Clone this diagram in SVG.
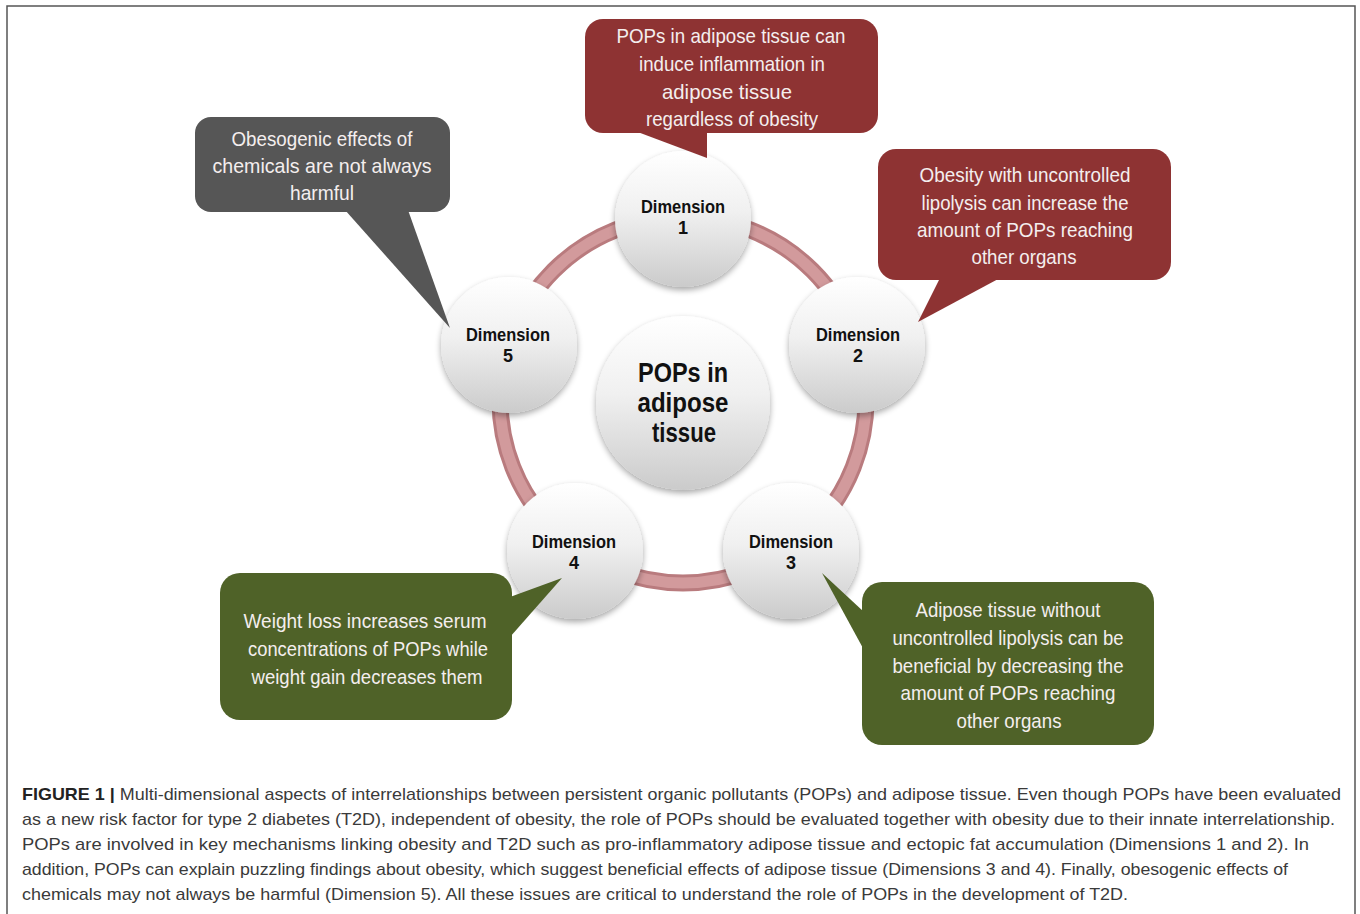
<svg xmlns="http://www.w3.org/2000/svg" width="1360" height="914" viewBox="0 0 1360 914">
<defs>
<style>
.co{font-family:"Liberation Sans",Arial,sans-serif;font-size:21px;fill:#f4eeee;text-anchor:middle;}
.dim{font-family:"Liberation Sans",Arial,sans-serif;font-size:18px;font-weight:bold;fill:#111;text-anchor:middle;}
.ctr{font-family:"Liberation Sans",Arial,sans-serif;font-size:28px;font-weight:bold;fill:#111;text-anchor:middle;}
.cap{font-family:"Liberation Sans",Arial,sans-serif;font-size:17px;fill:#3a3a3a;}
.red{fill:#8e3333;}
.gray{fill:#565656;}
.green{fill:#4f6228;}
</style>
<linearGradient id="ball" x1="0" y1="0" x2="0" y2="1">
<stop offset="0" stop-color="#ffffff"/>
<stop offset="0.45" stop-color="#f0f0f0"/>
<stop offset="1" stop-color="#cbcbcb"/>
</linearGradient>
<filter id="sh" x="-30%" y="-30%" width="160%" height="160%">
<feGaussianBlur in="SourceAlpha" stdDeviation="3"/>
<feOffset dx="0" dy="3" result="b"/>
<feComponentTransfer><feFuncA type="linear" slope="0.35"/></feComponentTransfer>
<feMerge><feMergeNode/><feMergeNode in="SourceGraphic"/></feMerge>
</filter>
</defs>
<rect x="0" y="0" width="1360" height="914" fill="#ffffff"/>
<rect x="7" y="6" width="1348" height="920" fill="none" stroke="#555" stroke-width="1.5"/>

<g id="connectors">
<circle cx="683" cy="400" r="183" fill="none" stroke="#b97b7e" stroke-width="17"/>
<circle cx="683" cy="400" r="183" fill="none" stroke="#d29a9c" stroke-width="11"/>
</g>

<g id="center">
<circle cx="683" cy="403" r="87" fill="url(#ball)" filter="url(#sh)"/>
<text class="ctr" x="683" y="382" textLength="90" lengthAdjust="spacingAndGlyphs">POPs in</text>
<text class="ctr" x="683" y="412" textLength="91" lengthAdjust="spacingAndGlyphs">adipose</text>
<text class="ctr" x="684" y="442" textLength="64" lengthAdjust="spacingAndGlyphs">tissue</text>
</g>

<g id="dim1">
<circle cx="683" cy="219" r="68" fill="url(#ball)" filter="url(#sh)"/>
<text class="dim" x="683" y="213" textLength="84" lengthAdjust="spacingAndGlyphs">Dimension</text>
<text class="dim" x="683" y="234">1</text>
</g>
<g id="dim2">
<circle cx="857" cy="345" r="68" fill="url(#ball)" filter="url(#sh)"/>
<text class="dim" x="858" y="341" textLength="84" lengthAdjust="spacingAndGlyphs">Dimension</text>
<text class="dim" x="858" y="362">2</text>
</g>
<g id="dim3">
<circle cx="791" cy="551" r="68" fill="url(#ball)" filter="url(#sh)"/>
<text class="dim" x="791" y="548" textLength="84" lengthAdjust="spacingAndGlyphs">Dimension</text>
<text class="dim" x="791" y="569">3</text>
</g>
<g id="dim4">
<circle cx="575" cy="551" r="68" fill="url(#ball)" filter="url(#sh)"/>
<text class="dim" x="574" y="548" textLength="84" lengthAdjust="spacingAndGlyphs">Dimension</text>
<text class="dim" x="574" y="569">4</text>
</g>
<g id="dim5">
<circle cx="509" cy="345" r="68" fill="url(#ball)" filter="url(#sh)"/>
<text class="dim" x="508" y="341" textLength="84" lengthAdjust="spacingAndGlyphs">Dimension</text>
<text class="dim" x="508" y="362">5</text>
</g>

<g id="callout1">
<rect class="red" x="585" y="19" width="293" height="114" rx="18"/>
<polygon class="red" points="635,131 707,131 707,158"/>
<text class="co" x="731" y="43" textLength="229" lengthAdjust="spacingAndGlyphs">POPs in adipose tissue can</text>
<text class="co" x="732" y="71" textLength="186" lengthAdjust="spacingAndGlyphs">induce inflammation in</text>
<text class="co" x="727" y="99" textLength="130" lengthAdjust="spacingAndGlyphs">adipose tissue</text>
<text class="co" x="732" y="126" textLength="172" lengthAdjust="spacingAndGlyphs">regardless of obesity</text>
</g>

<g id="callout2">
<rect class="red" x="878" y="149" width="293" height="131" rx="18"/>
<polygon class="red" points="940,278 1000,278 918,322"/>
<text class="co" x="1025" y="182" textLength="211" lengthAdjust="spacingAndGlyphs">Obesity with uncontrolled</text>
<text class="co" x="1025" y="210" textLength="207" lengthAdjust="spacingAndGlyphs">lipolysis can increase the</text>
<text class="co" x="1025" y="237" textLength="216" lengthAdjust="spacingAndGlyphs">amount of POPs reaching</text>
<text class="co" x="1024" y="264" textLength="105" lengthAdjust="spacingAndGlyphs">other organs</text>
</g>

<g id="callout5">
<rect class="gray" x="195" y="117" width="255" height="95" rx="16"/>
<polygon class="gray" points="345,210 408,210 450,328"/>
<text class="co" x="322" y="146" textLength="181" lengthAdjust="spacingAndGlyphs">Obesogenic effects of</text>
<text class="co" x="322" y="173" textLength="219" lengthAdjust="spacingAndGlyphs">chemicals are not always</text>
<text class="co" x="322" y="200" textLength="64" lengthAdjust="spacingAndGlyphs">harmful</text>
</g>

<g id="callout4">
<rect class="green" x="220" y="573" width="292" height="147" rx="20"/>
<polygon class="green" points="510,597 562,578 510,637"/>
<text class="co" x="365" y="628" textLength="243" lengthAdjust="spacingAndGlyphs">Weight loss increases serum</text>
<text class="co" x="368" y="656" textLength="240" lengthAdjust="spacingAndGlyphs">concentrations of POPs while</text>
<text class="co" x="367" y="684" textLength="231" lengthAdjust="spacingAndGlyphs">weight gain decreases them</text>
</g>

<g id="callout3">
<rect class="green" x="862" y="582" width="292" height="163" rx="20"/>
<polygon class="green" points="864,612 822,573 864,650"/>
<text class="co" x="1008" y="617" textLength="185" lengthAdjust="spacingAndGlyphs">Adipose tissue without</text>
<text class="co" x="1008" y="645" textLength="231" lengthAdjust="spacingAndGlyphs">uncontrolled lipolysis can be</text>
<text class="co" x="1008" y="673" textLength="231" lengthAdjust="spacingAndGlyphs">beneficial by decreasing the</text>
<text class="co" x="1008" y="700" textLength="215" lengthAdjust="spacingAndGlyphs">amount of POPs reaching</text>
<text class="co" x="1009" y="728" textLength="105" lengthAdjust="spacingAndGlyphs">other organs</text>
</g>

<g id="caption">
<text class="cap" x="22" y="800" textLength="1319" lengthAdjust="spacingAndGlyphs"><tspan font-weight="bold" fill="#222">FIGURE 1 |</tspan> Multi-dimensional aspects of interrelationships between persistent organic pollutants (POPs) and adipose tissue. Even though POPs have been evaluated</text>
<text class="cap" x="22" y="825" textLength="1313" lengthAdjust="spacingAndGlyphs">as a new risk factor for type 2 diabetes (T2D), independent of obesity, the role of POPs should be evaluated together with obesity due to their innate interrelationship.</text>
<text class="cap" x="22" y="850" textLength="1287" lengthAdjust="spacingAndGlyphs">POPs are involved in key mechanisms linking obesity and T2D such as pro-inflammatory adipose tissue and ectopic fat accumulation (Dimensions 1 and 2). In</text>
<text class="cap" x="22" y="875" textLength="1266" lengthAdjust="spacingAndGlyphs">addition, POPs can explain puzzling findings about obesity, which suggest beneficial effects of adipose tissue (Dimensions 3 and 4). Finally, obesogenic effects of</text>
<text class="cap" x="22" y="900" textLength="1106" lengthAdjust="spacingAndGlyphs">chemicals may not always be harmful (Dimension 5). All these issues are critical to understand the role of POPs in the development of T2D.</text>
</g>
</svg>
